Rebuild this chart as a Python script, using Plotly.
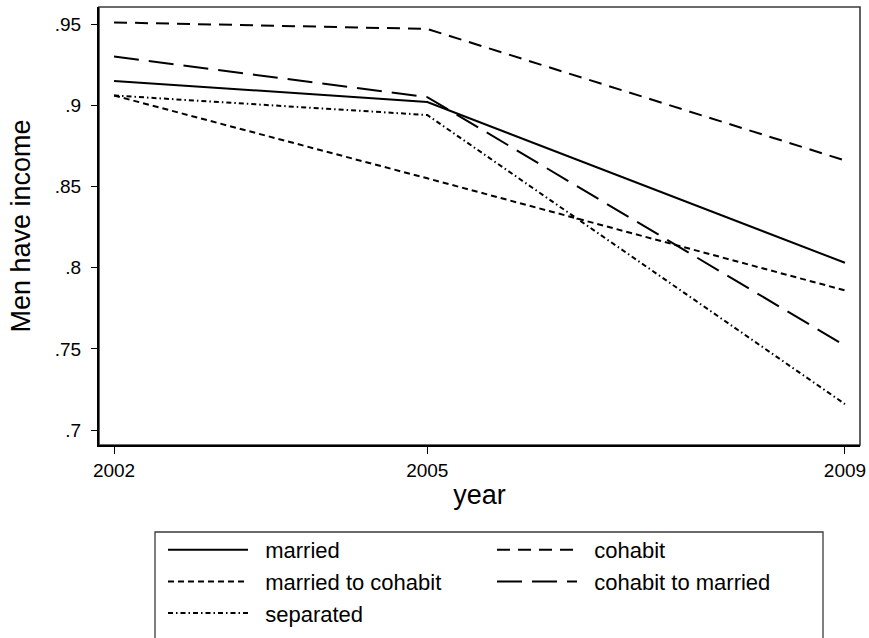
import plotly.graph_objects as go

# Share of men with income, by relationship status and survey year
years = [2002, 2005, 2009]
married = [0.915, 0.902, 0.803]
cohabit = [0.951, 0.947, 0.866]
married_to_cohabit = [0.906, 0.855, 0.786]
cohabit_to_married = [0.930, 0.905, 0.752]
separated = [0.906, 0.894, 0.716]

y_ticks = [0.7, 0.75, 0.8, 0.85, 0.9, 0.95]
y_tick_labels = [".7", ".75", ".8", ".85", ".9", ".95"]
x_ticks = [2002, 2005, 2009]

FONT = "Liberation Sans, Arial, sans-serif"

series = [
    ("married", married, "solid"),
    ("cohabit", cohabit, "13px,8px"),
    ("married to cohabit", married_to_cohabit, "6px,4px"),
    ("cohabit to married", cohabit_to_married, "25px,10px"),
    ("separated", separated, "5px,3px,1.5px,3px"),
]

fig = go.Figure()
for name, vals, dash in series:
    fig.add_trace(go.Scatter(
        x=years, y=vals, mode="lines",
        name="\u00a0\u00a0" + name,
        line=dict(color="black", width=2, dash=dash),
        hoverinfo="x+y",
    ))

L, R, T, B = 99, 9, 7, 193
W, H = 869, 638
pw, ph = W - L - R, H - T - B

fig.update_layout(
    width=W, height=H,
    margin=dict(l=L, r=R, t=T, b=B, pad=0, autoexpand=False),
    paper_bgcolor="white", plot_bgcolor="white",
    font=dict(family=FONT, color="black", size=19),
    showlegend=True,
    legend=dict(
        orientation="h",
        xref="paper", x=(163 - L) / pw, xanchor="left",
        yref="container", y=1 - 529 / H, yanchor="top",
        font=dict(size=22, family=FONT, color="black"),
        itemwidth=80,
        entrywidth=234, entrywidthmode="pixels",
        borderwidth=0, bgcolor="rgba(0,0,0,0)",
        traceorder="normal",
        itemclick=False, itemdoubleclick=False,
    ),
    xaxis=dict(
        range=[2001.856, 2009.144],
        tickmode="array", tickvals=x_ticks, ticktext=[str(v) for v in x_ticks],
        ticks="outside", ticklen=7, tickwidth=1.3, tickcolor="black",
        showline=True, linecolor="black", linewidth=2,
        showgrid=False, zeroline=False,
        tickfont=dict(size=19, family=FONT),
        ticklabelstandoff=0,
        title=dict(text="year", font=dict(size=27, family=FONT), standoff=5),
    ),
    yaxis=dict(
        range=[0.6908, 0.9605],
        tickmode="array", tickvals=y_ticks, ticktext=y_tick_labels,
        ticks="outside", ticklen=6, tickwidth=1.3, tickcolor="black",
        showline=True, linecolor="black", linewidth=2,
        showgrid=False, zeroline=False,
        tickfont=dict(size=19, family=FONT),
        ticklabelstandoff=6,
        title=dict(text="Men have income", font=dict(size=27, family=FONT), standoff=16),
    ),
)

# Plot-region outline
fig.add_shape(type="rect", xref="paper", yref="paper", x0=0, x1=1, y0=0, y1=1,
              line=dict(color="#3a3a3a", width=1.6), layer="below")

# Legend frame (runs past the lower edge of the page)
fig.add_shape(type="rect", xref="paper", yref="paper",
              x0=(155 - L) / pw, x1=(823 - L) / pw,
              y0=-(700 - (H - B)) / ph, y1=-(532 - (H - B)) / ph,
              line=dict(color="#3a3a3a", width=1.3))

fig.write_html("out.html")
